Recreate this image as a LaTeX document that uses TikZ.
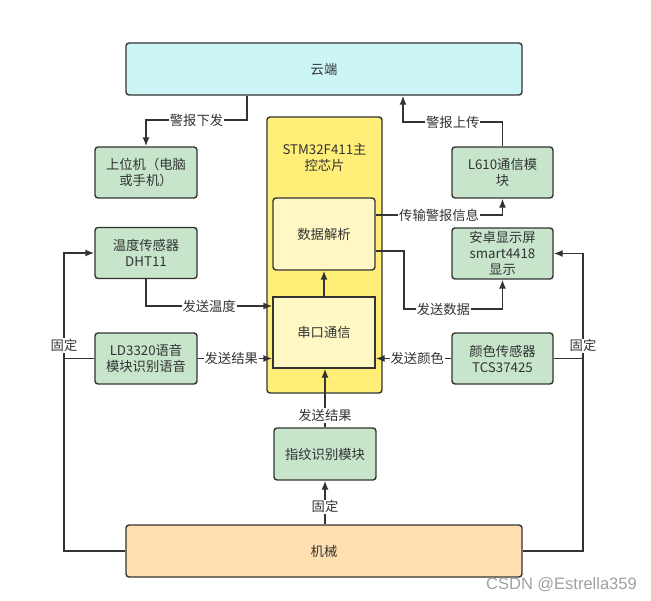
\documentclass[tikz,border=0pt]{standalone}
\usepackage{fontspec}
\setmainfont{Noto Sans CJK SC}
\newfontfamily\wmfont{Liberation Sans}
\usetikzlibrary{arrows.meta}
\definecolor{lncol}{HTML}{333333}
\definecolor{cyanf}{HTML}{CCF5F6}
\definecolor{greenf}{HTML}{C6E5CB}
\definecolor{yellowf}{HTML}{FFEE77}
\definecolor{lyellowf}{HTML}{FFF8C4}
\definecolor{orangef}{HTML}{FFDFB0}
\definecolor{txt}{HTML}{333333}
\definecolor{wmcol}{HTML}{A0A0A0}
\tikzset{
  box/.style={draw=lncol, line width=1.4pt, rounded corners=3pt, align=center, text=txt,
    font=\fontsize{13.3}{16}\selectfont, inner sep=0pt},
  arr/.style={draw=lncol, line width=1.4pt, -{Latex[length=9pt,width=7pt]}},
  plainline/.style={draw=lncol, line width=1.4pt},
  lbl/.style={fill=white, text=txt, font=\fontsize{13.3}{16}\selectfont, inner sep=1pt},
}
\begin{document}
\begin{tikzpicture}[x=1pt,y=-1pt]
\useasboundingbox (0,0) rectangle (651,601);
% boxes
\node[box, fill=cyanf, minimum width=396pt, minimum height=52pt] (cloud) at (324,69) {云端};
\node[box, fill=greenf, minimum width=102pt, minimum height=51pt] (host) at (146,172.5) {上位机（电脑\\或手机）};
\node[box, fill=greenf, minimum width=101pt, minimum height=51pt] (l610) at (502.5,172.5) {L610通信模\\块};
\node[box, fill=yellowf, minimum width=115pt, minimum height=276pt] (stm) at (324.5,255) {};
\node[text=txt, font=\fontsize{13.3}{16}\selectfont, align=center, inner sep=0pt] (stmt) at (324.5,157) {STM32F411主\\控芯片};
\node[box, fill=lyellowf, minimum width=102pt, minimum height=72pt] (parse) at (324,234) {数据解析};
\node[box, fill=lyellowf, sharp corners, minimum width=102pt, minimum height=71pt] (uart) at (324,332.5) {串口通信};
\node[box, fill=greenf, minimum width=102pt, minimum height=51pt] (temp) at (146,253) {温度传感器\\DHT11};
\node[box, fill=greenf, minimum width=102pt, minimum height=51pt] (ld) at (146,358.5) {LD3320语音\\模块识别语音};
\node[box, fill=greenf, minimum width=101pt, minimum height=51pt] (android) at (502.5,253.5) {安卓显示屏\\smart4418\\显示};
\node[box, fill=greenf, minimum width=101pt, minimum height=51pt] (color) at (502.5,358.5) {颜色传感器\\TCS37425};
\node[box, fill=greenf, minimum width=102pt, minimum height=52pt] (finger) at (325,454) {指纹识别模块};
\node[box, fill=orangef, minimum width=396pt, minimum height=52pt] (mech) at (324,551) {机械};
\node[anchor=east, text=wmcol, font=\wmfont\fontsize{16.5}{18}\selectfont, inner sep=0pt] (wm) at (637,585) {CSDN @Estrella359};
% bend points
\coordinate (b1) at (247,120);
\coordinate (b2) at (403,122);
\coordinate (b3) at (375,215);
\coordinate (b4) at (404,251);
\coordinate (b5) at (404,309);
\coordinate (b6) at (146,306);
\coordinate (lx) at (64,0);
\coordinate (rx) at (583,0);
% connectors
\draw[arr] (cloud.south -| b1) -- (b1) -- node[lbl]{警报下发} (b1 -| host.north) -- (host.north);
\draw[arr] (l610.north) -- (l610.north |- b2) -- node[lbl]{警报上传} (b2) -- (b2 |- cloud.south);
\draw[arr] (parse.east |- b3) -- node[lbl]{传输警报信息} (b3 -| l610.south) -- (l610.south);
\draw[arr] (parse.east |- b4) -- (b4) -- (b5) -- node[lbl,pos=0.4]{发送数据} (b5 -| android.south) -- (android.south);
\draw[arr] (temp.south) -- (b6) -- node[lbl]{发送温度} (b6 -| uart.west);
\draw[arr] (ld.east) -- node[lbl,pos=0.45]{发送结果} (ld.east -| uart.west);
\draw[arr] (color.west) -- node[lbl,pos=0.45]{发送颜色} (color.west -| uart.east);
\draw[arr] (uart.north) -- (parse.south);
\draw[arr] (finger.north) -- node[lbl,pos=0.2]{发送结果} (finger.north |- uart.south);
\draw[arr] (finger.south |- mech.north) -- node[lbl,pos=0.4]{固定} (finger.south);
\draw[arr] (mech.west) -- (mech.west -| lx) -- node[lbl,pos=0.69]{固定} (lx |- temp.west) -- (temp.west);
\draw[plainline] (ld.west) -- (ld.west -| lx);
\draw[arr] (mech.east) -- (mech.east -| rx) -- node[lbl,pos=0.69]{固定} (rx |- android.east) -- (android.east);
\draw[plainline] (color.east) -- (color.east -| rx);
\end{tikzpicture}
\end{document}
